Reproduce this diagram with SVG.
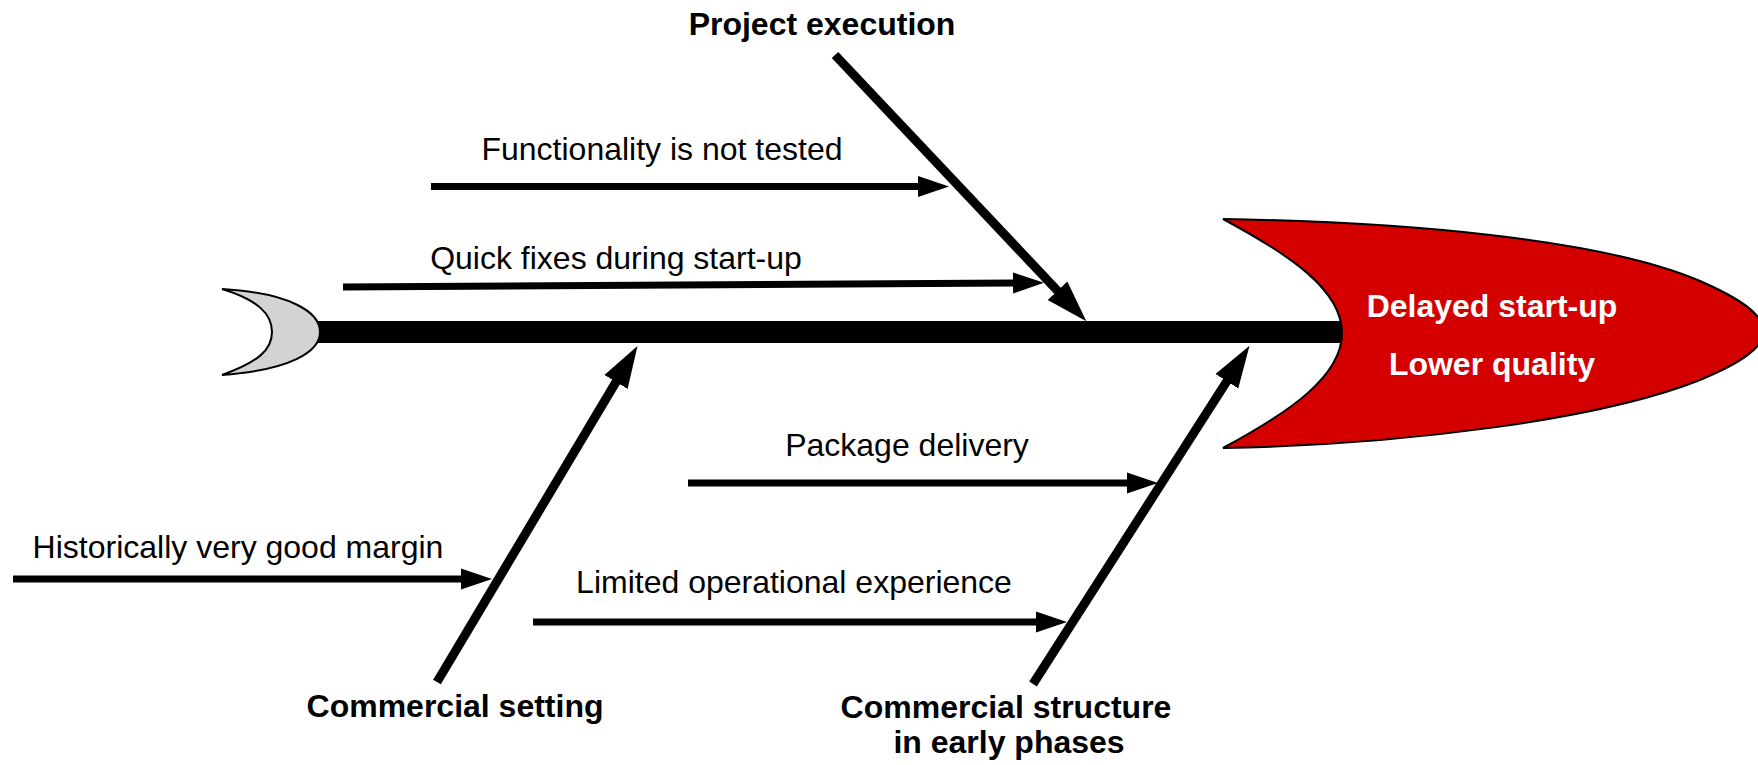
<svg xmlns="http://www.w3.org/2000/svg" width="1758" height="765" viewBox="0 0 1758 765">
<style>
.lbl{font-family:"Liberation Sans",Arial,sans-serif;font-size:32px;fill:#000;text-anchor:middle}
.bold{font-weight:bold}
.head-txt{font-family:"Liberation Sans",Arial,sans-serif;font-size:32px;font-weight:bold;fill:#fff;text-anchor:middle}
.cause{stroke:#000;stroke-width:7;fill:none;marker-end:url(#ah-small)}
.bone{stroke:#000;stroke-width:9;fill:none;marker-end:url(#ah-big)}
</style>
<defs>
<marker id="ah-small" markerUnits="userSpaceOnUse" viewBox="0 0 32 22" markerWidth="32" markerHeight="22" refX="1" refY="11" orient="auto">
<path d="M0,0.5 L31,11 L0,21.5 Z" fill="#000"/>
</marker>
<marker id="ah-big" markerUnits="userSpaceOnUse" viewBox="0 0 43 28" markerWidth="43" markerHeight="28" refX="1" refY="14" orient="auto">
<path d="M0,0.5 L42,14 L0,27.5 Z" fill="#000"/>
</marker>
</defs>
<rect width="1758" height="765" fill="#fff"/>
<g id="connectors">
<rect id="spine" x="300" y="321" width="1042" height="22" fill="#000"/>
<line class="bone" x1="835" y1="55" x2="1058.2" y2="291.5"/>
<line class="bone" x1="437" y1="682" x2="616.5" y2="381.1"/>
<line class="bone" x1="1033" y1="684" x2="1227.4" y2="380.4"/>
<line class="cause" x1="431" y1="186.5" x2="919" y2="186.5"/>
<line class="cause" x1="343" y1="287" x2="1014" y2="282.9"/>
<line class="cause" x1="688" y1="483" x2="1128" y2="483"/>
<line class="cause" x1="13" y1="579" x2="462" y2="579"/>
<line class="cause" x1="533" y1="622" x2="1037" y2="622"/>
</g>
<g id="tail">
<path d="M222,289 C290,293 320,312 320,332 C320,352 290,370 222,375 C258,362 272,350 272,332 C272,314 258,300 222,289 Z" fill="#d3d3d3" stroke="#000" stroke-width="2"/>
</g>
<g id="head">
<path d="M1223,219 C1400,222 1600,238 1700,281 C1785,318 1785,345 1700,380 C1600,420 1400,445 1223,448 C1290,412 1342,376 1342,333 C1342,290 1290,255 1223,219 Z" fill="#d40000" stroke="#000" stroke-width="2"/>
<text class="head-txt" x="1492" y="317">Delayed start-up</text>
<text class="head-txt" x="1492" y="375">Lower quality</text>
</g>
<g id="cat-project-execution"><text class="lbl bold" x="822" y="35">Project execution</text></g>
<g id="cat-commercial-setting"><text class="lbl bold" x="455" y="717">Commercial setting</text></g>
<g id="cat-commercial-structure"><text class="lbl bold" x="1006" y="718">Commercial structure</text><text class="lbl bold" x="1009" y="753">in early phases</text></g>
<g id="cause-functionality"><text class="lbl" x="662" y="160">Functionality is not tested</text></g>
<g id="cause-quick-fixes"><text class="lbl" x="616" y="269">Quick fixes during start-up</text></g>
<g id="cause-package"><text class="lbl" x="907" y="456">Package delivery</text></g>
<g id="cause-historically"><text class="lbl" x="238" y="558">Historically very good margin</text></g>
<g id="cause-limited"><text class="lbl" x="794" y="593">Limited operational experience</text></g>
</svg>
